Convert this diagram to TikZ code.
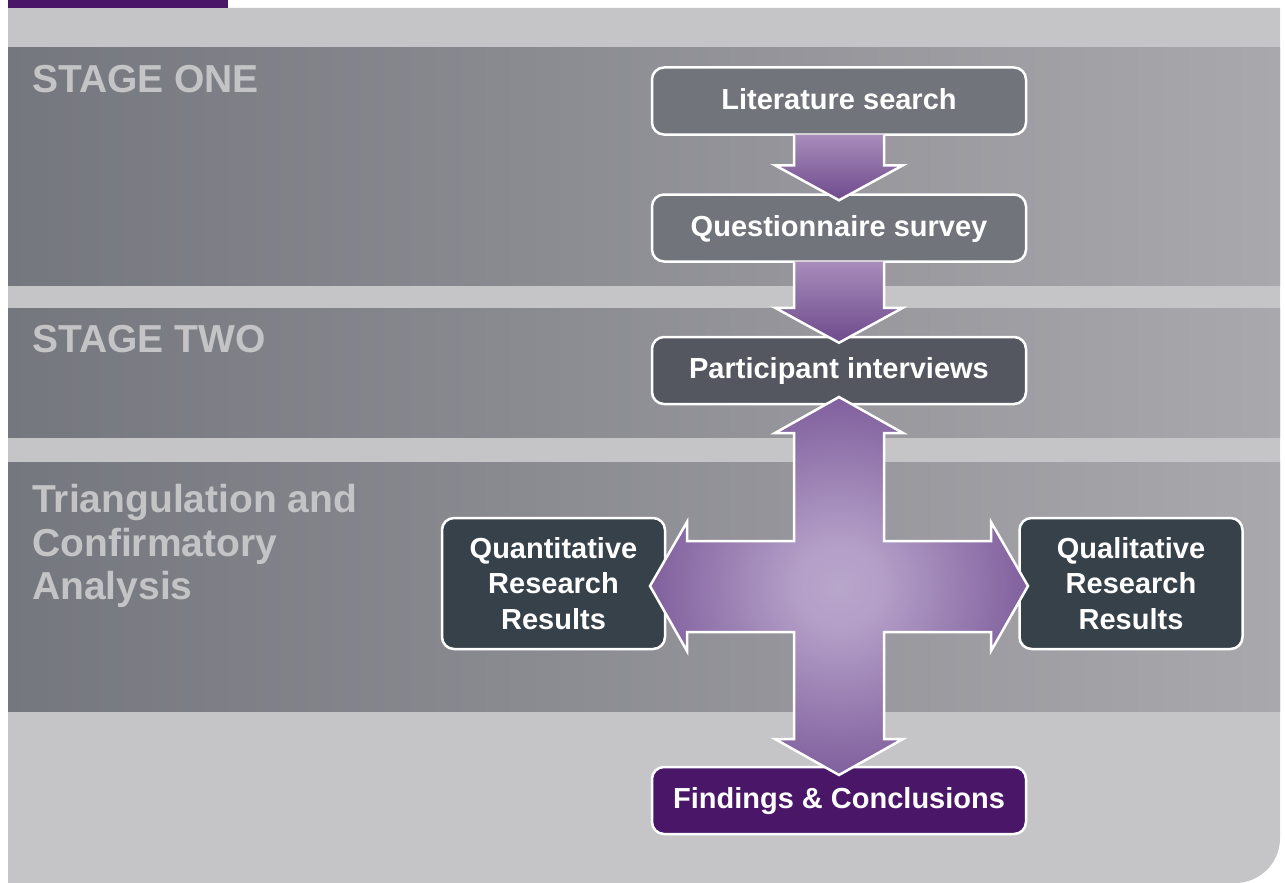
\documentclass[tikz,border=0pt]{standalone}
\usepackage{fontspec}
\setmainfont{Liberation Sans}
\usetikzlibrary{calc}
\definecolor{panelc}{HTML}{C5C5C7}
\definecolor{topbar}{HTML}{4A1768}
\definecolor{bandL}{HTML}{75777E}
\definecolor{bandR}{HTML}{A9A8AD}
\definecolor{labelc}{HTML}{C4C4C6}
\definecolor{boxA}{HTML}{72747C}
\definecolor{boxB}{HTML}{54575F}
\definecolor{boxC}{HTML}{37414A}
\definecolor{findc}{HTML}{4A1768}
\definecolor{arrTop}{HTML}{A88CBB}
\definecolor{arrBot}{HTML}{6E4A8C}
\pgfdeclareradialshading{crossrad}{\pgfpoint{0bp}{0bp}}{rgb(0bp)=(.725,.651,.796); rgb(6bp)=(.70,.62,.78); rgb(34bp)=(.41,.26,.54); rgb(50bp)=(.41,.26,.54)}
\tikzset{
  band/.style={left color=bandL, right color=bandR},
  stagelabel/.style={text=labelc, font=\fontsize{39}{43.5}\selectfont\bfseries, inner sep=0pt, anchor=north west, align=left},
  boxbase/.style={draw=white, line width=2.5pt, rounded corners=12pt, inner sep=0pt, text=white,
    font=\fontsize{29}{35.5}\selectfont\bfseries, align=center},
  box/.style={boxbase, minimum width=374pt, minimum height=67pt, text height=21pt, text depth=5pt},
  rbox/.style={boxbase, fill=boxC, minimum width=223pt, minimum height=131pt},
  arrowfill/.style={top color=arrTop, bottom color=arrBot},
  arrowline/.style={draw=white, line width=2.5pt, line join=miter},
  crossstyle/.style={shading=crossrad, draw=white, line width=2.5pt, line join=miter}
}
\newcommand\blockdown[2]{%
  \fill[arrowfill] ($(#1.south)+(-45,-1)$) -- ($(#2.north)+(-45,-28)$) -- ($(#2.north)+(-64,-28)$) -- ($(#2.north)+(0,7)$) -- ($(#2.north)+(64,-28)$) -- ($(#2.north)+(45,-28)$) -- ($(#1.south)+(45,-1)$) -- cycle;
  \draw[arrowline] ($(#1.south)+(-45,-1)$) -- ($(#2.north)+(-45,-28)$) -- ($(#2.north)+(-64,-28)$) -- ($(#2.north)+(0,7)$) -- ($(#2.north)+(64,-28)$) -- ($(#2.north)+(45,-28)$) -- ($(#1.south)+(45,-1)$);
}
\begin{document}
\begin{tikzpicture}[x=1pt,y=-1pt]
\useasboundingbox (0,0) rectangle (1285,883);
\fill[white] (0,0) rectangle (1285,883);
% background panel
\fill[panelc] (8,8) -- (1280,8) -- (1280,838) .. controls (1280,863) and (1260,883) .. (1235,883) -- (8,883) -- cycle;
\fill[topbar] (8,0) rectangle (228,8);
% bands
\fill[band] (8,48) rectangle (1280,285);
\fill[band] (8,308) rectangle (1280,437);
\fill[band] (8,462) rectangle (1280,711);
% labels
\node[stagelabel] (s1) at (32,65) {STAGE ONE};
\node[stagelabel] (s2) at (32,325.5) {STAGE TWO};
\node[stagelabel] (s3) at (32,484.5) {Triangulation and\\Confirmatory\\Analysis};
% boxes
\node[box, fill=boxA] (lit) at (839,101) {Literature search};
\node[box, fill=boxA] (quest) at (839,228) {Questionnaire survey};
\node[box, fill=boxB] (part) at (839,370.5) {Participant interviews};
\node[rbox] (quant) at (553.5,583.5) {Quantitative\\Research\\Results};
\node[rbox] (qual) at (1131,583.5) {Qualitative\\Research\\Results};
\node[box, fill=findc] (find) at (839,800.5) {Findings \& Conclusions};
% down arrows
\blockdown{lit}{quest}
\blockdown{quest}{part}
% cross
\coordinate (hub) at (839,586);
\begin{scope}[shift={(hub)}]
\path[crossstyle] (0,-189) -- (64,-153) -- (45,-153) -- (45,-45) -- (152,-45) -- (152,-64) -- (189,0) -- (152,65) -- (152,46) -- (45,46) -- (45,153) -- (64,153) -- (0,189) -- (-64,153) -- (-45,153) -- (-45,46) -- (-152,46) -- (-152,65) -- (-189,0) -- (-152,-64) -- (-152,-45) -- (-45,-45) -- (-45,-153) -- (-64,-153) -- cycle;
\end{scope}
\end{tikzpicture}
\end{document}
